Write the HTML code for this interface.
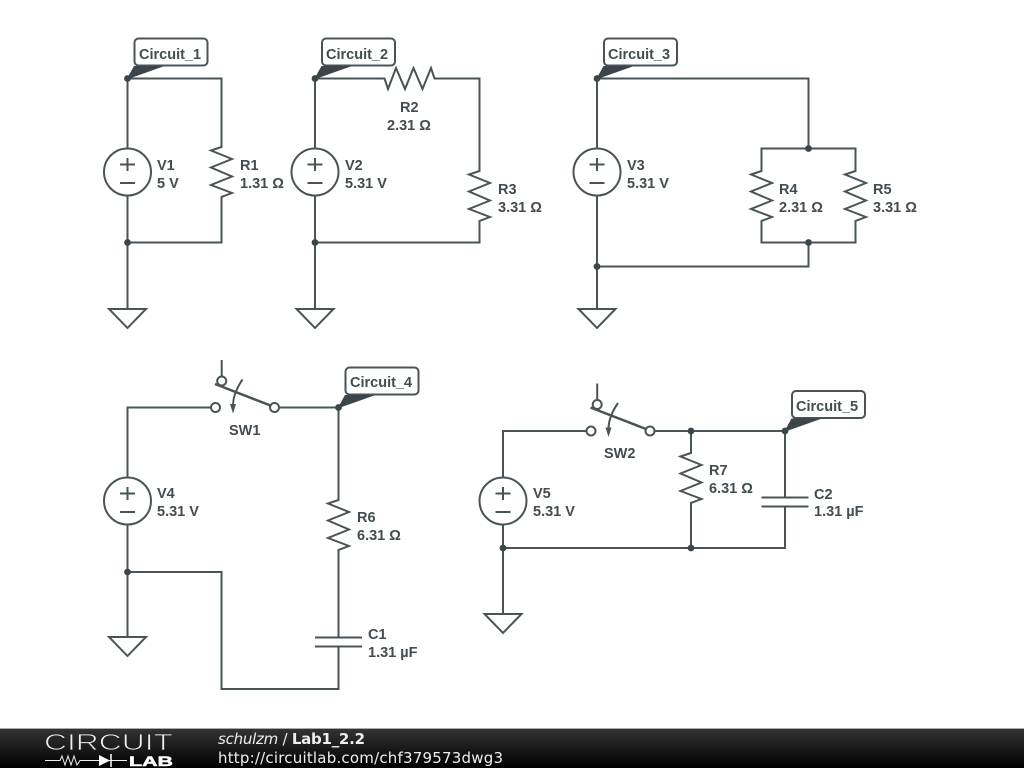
<!DOCTYPE html>
<html><head><meta charset="utf-8"><style>
html,body{margin:0;padding:0;background:#fff;width:1024px;height:768px;overflow:hidden}
svg{display:block}
.w{fill:none;stroke:#4a5457;stroke-width:2}
.l{font:bold 14.500px "Liberation Sans",sans-serif;fill:#434c50}
.t{font:bold 14.500px "Liberation Sans",sans-serif;fill:#434c50}
.f{font:15px "DejaVu Sans",sans-serif;fill:#eee}
</style></head><body>
<svg width="1024" height="768" viewBox="0 0 1024 768" xmlns="http://www.w3.org/2000/svg">
<defs>
<linearGradient id="g" x1="0" y1="0" x2="0" y2="1"><stop offset="0" stop-color="#333"/><stop offset="1" stop-color="#000"/></linearGradient>
<g id="v" class="w"><circle cx="0" cy="0" r="23.500"/><path d="M-7.500-7.500H7.500M0-14V-1M-7.500 11H7.500"/></g>
<path id="rv" class="w" d="M0-27V-25L-10.500-21.500L10.500-13L-10.500-4.500L10.500 4.500L-10.500 13L10.500 21L0 25V27"/>
<path id="rh" class="w" d="M-26.500 0H-25L-21.500 10.500L-13.500-10.500L-4.500 10.500L4-10.500L13 10.500L21.500-10.500L25 0H26.500"/>
<path id="gnd" class="w" d="M-18.500 0H18.500L0 19Z"/>
<g id="cap" class="w"><path d="M-23.500-4.500H23.500M-23.500 4.500H23.500"/></g>
<g id="sw"><g class="w"><circle cx="0" cy="0" r="4.500" style="fill:#fff"/><circle cx="59" cy="0" r="4.500" style="fill:#fff"/><path d="M6.200-47.500V-31"/><circle cx="6.200" cy="-26.500" r="4.500" style="fill:#fff"/><path d="M-0.500-23.500L55-2" style="stroke-width:2.500"/><path d="M27-28Q18-15 17.500-3"/></g><path d="M14.500-3.500H20.500L17.500 6Z" fill="#4a5457"/></g>
<circle id="d" r="3.400" fill="#3c464a"/>
<g id="tag"><circle r="3.400" fill="#3c464a"/><rect x="7" y="-40" width="73" height="27" rx="4" fill="#fff" stroke="#4a5457" stroke-width="2"/><path d="M-1 1L6.500-12.500H37Z" fill="#3c464a"/></g>
</defs>
<rect width="1024" height="768" fill="#fff"/>

<!-- Circuit 1 -->
<path class="w" d="M127.500 148V78.500H221.500V145M221.500 199V242.500H127.500V309M127.500 196V242.500"/>
<use href="#v" x="127.500" y="172"/><use href="#rv" x="221.500" y="172"/><use href="#gnd" x="127.500" y="309"/><use href="#d" x="127.500" y="242.500"/>
<use href="#tag" x="127.500" y="78.500"/><text class="t" x="139" y="59">Circuit_1</text>
<text class="l" x="157" y="170">V1</text><text class="l" x="157" y="188">5 V</text>
<text class="l" x="240" y="170">R1</text><text class="l" x="240" y="188">1.31 Ω</text>

<!-- Circuit 2 -->
<path class="w" d="M315 148V78.500H383M436 78.500H479.500V169M479.500 223V242.500H315V309M315 196V242.500"/>
<use href="#v" x="315" y="172"/><use href="#rh" x="409.500" y="78.500"/><use href="#rv" x="479.500" y="196"/><use href="#gnd" x="315" y="309"/><use href="#d" x="315" y="242.500"/>
<use href="#tag" x="315" y="78.500"/><text class="t" x="326" y="59">Circuit_2</text>
<text class="l" x="345" y="170">V2</text><text class="l" x="345" y="188">5.31 V</text>
<text class="l" x="400" y="112">R2</text><text class="l" x="387" y="130">2.31 Ω</text>
<text class="l" x="498" y="194">R3</text><text class="l" x="498" y="212">3.31 Ω</text>

<!-- Circuit 3 -->
<path class="w" d="M597 148V78.500H808.500V148.500M761.500 169V148.500H855.500V169M761.500 223V242.500H855.500V223M808.500 242.500V266.500H597M597 196V309"/>
<use href="#v" x="597" y="172"/><use href="#rv" x="761.500" y="196"/><use href="#rv" x="855.500" y="196"/><use href="#gnd" x="597" y="309"/>
<use href="#d" x="808.500" y="148.500"/><use href="#d" x="808.500" y="242.500"/><use href="#d" x="597" y="266.500"/>
<use href="#tag" x="597" y="78.500"/><text class="t" x="608" y="59">Circuit_3</text>
<text class="l" x="627" y="170">V3</text><text class="l" x="627" y="188">5.31 V</text>
<text class="l" x="779" y="194">R4</text><text class="l" x="779" y="212">2.31 Ω</text>
<text class="l" x="873" y="194">R5</text><text class="l" x="873" y="212">3.31 Ω</text>

<!-- Circuit 4 -->
<path class="w" d="M127.500 477V407.500H211M279 407.500H338.500V498M338.500 552V637.500M338.500 646.500V689H221.500V572H127.500M127.500 525V637"/>
<use href="#v" x="127.500" y="501"/><use href="#rv" x="338.500" y="525"/><use href="#cap" x="338.500" y="642"/><use href="#gnd" x="127.500" y="637"/>
<use href="#sw" x="215.500" y="407.500"/><use href="#d" x="127.500" y="572"/>
<use href="#tag" x="338.500" y="407.500"/><text class="t" x="350" y="387">Circuit_4</text>
<text class="l" x="157" y="498">V4</text><text class="l" x="157" y="516">5.31 V</text>
<text class="l" x="229" y="435">SW1</text>
<text class="l" x="357" y="522">R6</text><text class="l" x="357" y="540">6.31 Ω</text>
<text class="l" x="368" y="639">C1</text><text class="l" x="368" y="657">1.31 µF</text>

<!-- Circuit 5 -->
<path class="w" d="M503 477V431H587M654 431H785V497.500M785 506.500V548H503M503 525V614M691 431V451M691 505V548"/>
<use href="#v" x="503" y="501"/><use href="#rv" x="691" y="478"/><use href="#cap" x="785" y="502"/><use href="#gnd" x="503" y="614"/>
<use href="#sw" x="591" y="431"/><use href="#d" x="691" y="431"/><use href="#d" x="503" y="548"/><use href="#d" x="691" y="548"/>
<use href="#tag" x="785" y="431"/><text class="t" x="796" y="411">Circuit_5</text>
<text class="l" x="533" y="498">V5</text><text class="l" x="533" y="516">5.31 V</text>
<text class="l" x="604" y="458">SW2</text>
<text class="l" x="709" y="475">R7</text><text class="l" x="709" y="493">6.31 Ω</text>
<text class="l" x="814" y="499">C2</text><text class="l" x="814" y="516">1.31 µF</text>

<!-- Footer -->
<rect x="0" y="728" width="1024" height="40" fill="#aaa"/>
<rect x="0" y="729" width="1024" height="39" fill="url(#g)"/>
<text x="44" y="750" textLength="129" lengthAdjust="spacingAndGlyphs" style="font:23px 'Liberation Sans',sans-serif;fill:#eee;stroke:#222;stroke-width:.8">CIRCUIT</text>
<text x="129" y="766" textLength="44" lengthAdjust="spacingAndGlyphs" style="font:bold 14px 'Liberation Sans',sans-serif;fill:#fff;stroke:#fff;stroke-width:.5">LAB</text>
<path d="M45 760.500H60L62 756L65 765L68 756L71 765L74 756L77 765L80 760.500H127" fill="none" stroke="#eee" stroke-width="1"/>
<path d="M99 755L110 760.500L99 766Z" fill="#fff"/><path d="M111 754V767" stroke="#fff" stroke-width="1.500"/>
<text class="f" x="218" y="744" textLength="147"><tspan font-style="italic">schulzm</tspan> / <tspan font-weight="bold">Lab1_2.2</tspan></text>
<text class="f" x="218" y="763" textLength="285">http://circuitlab.com/chf379573dwg3</text>
</svg>
</body></html>
